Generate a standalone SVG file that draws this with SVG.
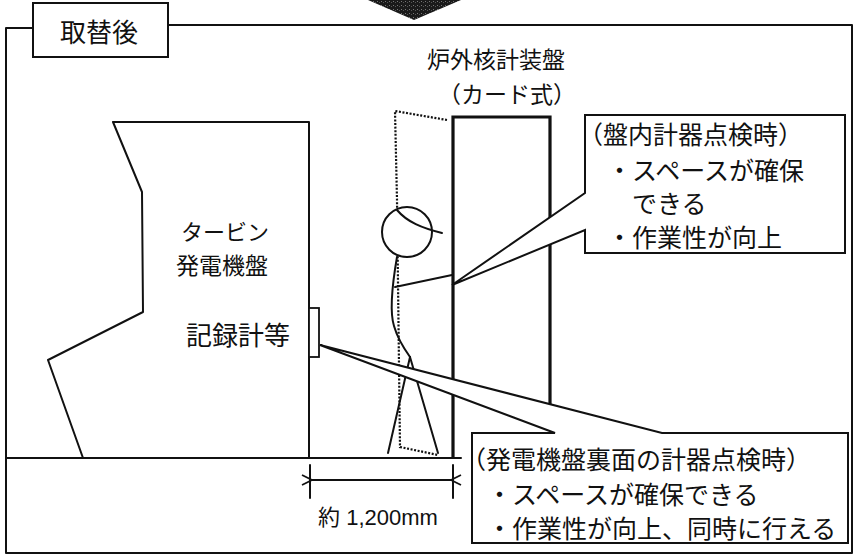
<svg xmlns="http://www.w3.org/2000/svg" width="860" height="556" viewBox="0 0 860 556">
  <defs>
    <style>
      .ln { fill: none; stroke: #111; stroke-width: 2; stroke-linejoin: round; stroke-linecap: round; }
      .thick { fill: none; stroke: #111; stroke-width: 3.2; }
      .dot { fill: none; stroke: #111; stroke-width: 2.2; stroke-dasharray: 2 1.6; }
      .box { fill: #fff; stroke: #111; stroke-width: 2; stroke-linejoin: miter; }
      .jp { font-family: "Noto Sans CJK JP", sans-serif; fill: #111; }
      .lat { font-family: "Liberation Sans", "Noto Sans CJK JP", sans-serif; fill: #111; }
    </style>
    <marker id="openHead" viewBox="0 0 12 12" refX="1" refY="6" markerWidth="12" markerHeight="12" markerUnits="userSpaceOnUse" orient="auto-start-reverse">
      <path d="M11,1 L1,6 L11,11" fill="none" stroke="#111" stroke-width="1.8"/>
    </marker>
    <pattern id="grain" width="4" height="4" patternUnits="userSpaceOnUse">
      <rect width="4" height="4" fill="#1a1a1a"/>
      <rect x="1" y="1" width="1" height="1" fill="#777"/>
      <rect x="3" y="2" width="1" height="1" fill="#555"/>
    </pattern>
  </defs>

  <rect width="860" height="556" fill="#fff"/>

  <!-- outer frame -->
  <g id="frame">
    <path class="ln" d="M33,28 L6,28 L6,553 L852,553 L852,25 L168,25" stroke-width="2.4"/>
  </g>

  <!-- tip of the transition arrow -->
  <g id="arrow">
    <polygon points="368,0 461,0 414,20" fill="url(#grain)"/>
  </g>

  <!-- heading tag -->
  <g id="label">
    <rect class="box" x="33" y="3" width="135" height="54"/>
    <text class="jp" x="60" y="42" font-size="26">取替後</text>
  </g>

  <!-- floor -->
  <g id="floor">
    <line class="ln" x1="6" y1="458" x2="461" y2="458"/>
  </g>

  <!-- turbine generator panel -->
  <g id="turbine-panel">
    <path class="ln" d="M83,458 L48,360 L143,312 L142,192 L113,122 L309,122 L309,458"/>
    <text class="jp" x="181" y="240" font-size="22">タービン</text>
    <text class="jp" x="176" y="274" font-size="23">発電機盤</text>
  </g>

  <!-- recorders on the rear face -->
  <g id="recorder">
    <rect x="309" y="308" width="10" height="49" fill="#fff" stroke="#111" stroke-width="1.8"/>
    <text class="jp" x="186" y="345" font-size="26">記録計等</text>
  </g>

  <!-- ex-core nuclear instrumentation panel (card type) -->
  <g id="nis-panel">
    <path class="thick" d="M453,458 L453,117 L550,117 L550,425"/>
    <text class="jp" x="427" y="68" font-size="23">炉外核計装盤</text>
    <text class="jp" x="438" y="103" font-size="23">（カード式）</text>
  </g>

  <!-- opened door (dotted) and worker -->
  <g id="person">
    <path class="dot" d="M447,120 L395,111 L397,200 L400,447 L438,455"/>
    <path class="ln" d="M397,257 C393,280 389,310 394,326 C398,340 405,350 410,357"/>
    <path class="ln" d="M410,357 L388,453"/>
    <path class="ln" d="M410,357 L438,453"/>
    <path class="ln" d="M395,287 L452,275"/>
    <circle cx="407" cy="232" r="25" fill="#fff" stroke="#111" stroke-width="2"/>
    <path class="ln" d="M397,210 C407,222 422,228 442,233"/>
  </g>

  <!-- callout: inspection of instruments inside the panel -->
  <g id="callout-panel">
    <path class="box" d="M585,193 L585,115 L845,115 L845,253 L585,253 L585,230 L452,285 Z"/>
    <text class="jp" x="578" y="144" font-size="25">（盤内計器点検時）</text>
    <text class="jp" x="607" y="180" font-size="25">・スペースが確保</text>
    <text class="jp" x="632" y="213" font-size="25">できる</text>
    <text class="jp" x="607" y="247" font-size="25">・作業性が向上</text>
  </g>

  <!-- callout: inspection of instruments on the rear of the generator panel -->
  <g id="callout-rear">
    <path class="box" d="M555,433 L320,345 L662,433 L848,433 L848,543 L472,543 L472,433 Z"/>
    <text class="jp" x="461" y="469" font-size="25">（発電機盤裏面の計器点検時）</text>
    <text class="jp" x="487" y="504" font-size="25">・スペースが確保できる</text>
    <text class="jp" x="487" y="538" font-size="25">・作業性が向上、同時に行える</text>
  </g>

  <!-- clearance dimension -->
  <g id="connectors">
    <line class="ln" x1="310" y1="465" x2="310" y2="498"/>
    <line class="ln" x1="453" y1="465" x2="453" y2="498"/>
    <line x1="312" y1="480" x2="451" y2="480" stroke="#111" stroke-width="2" marker-start="url(#openHead)" marker-end="url(#openHead)"/>
    <text class="lat" x="378" y="525" font-size="22" text-anchor="middle">約 1,200mm</text>
  </g>
</svg>
